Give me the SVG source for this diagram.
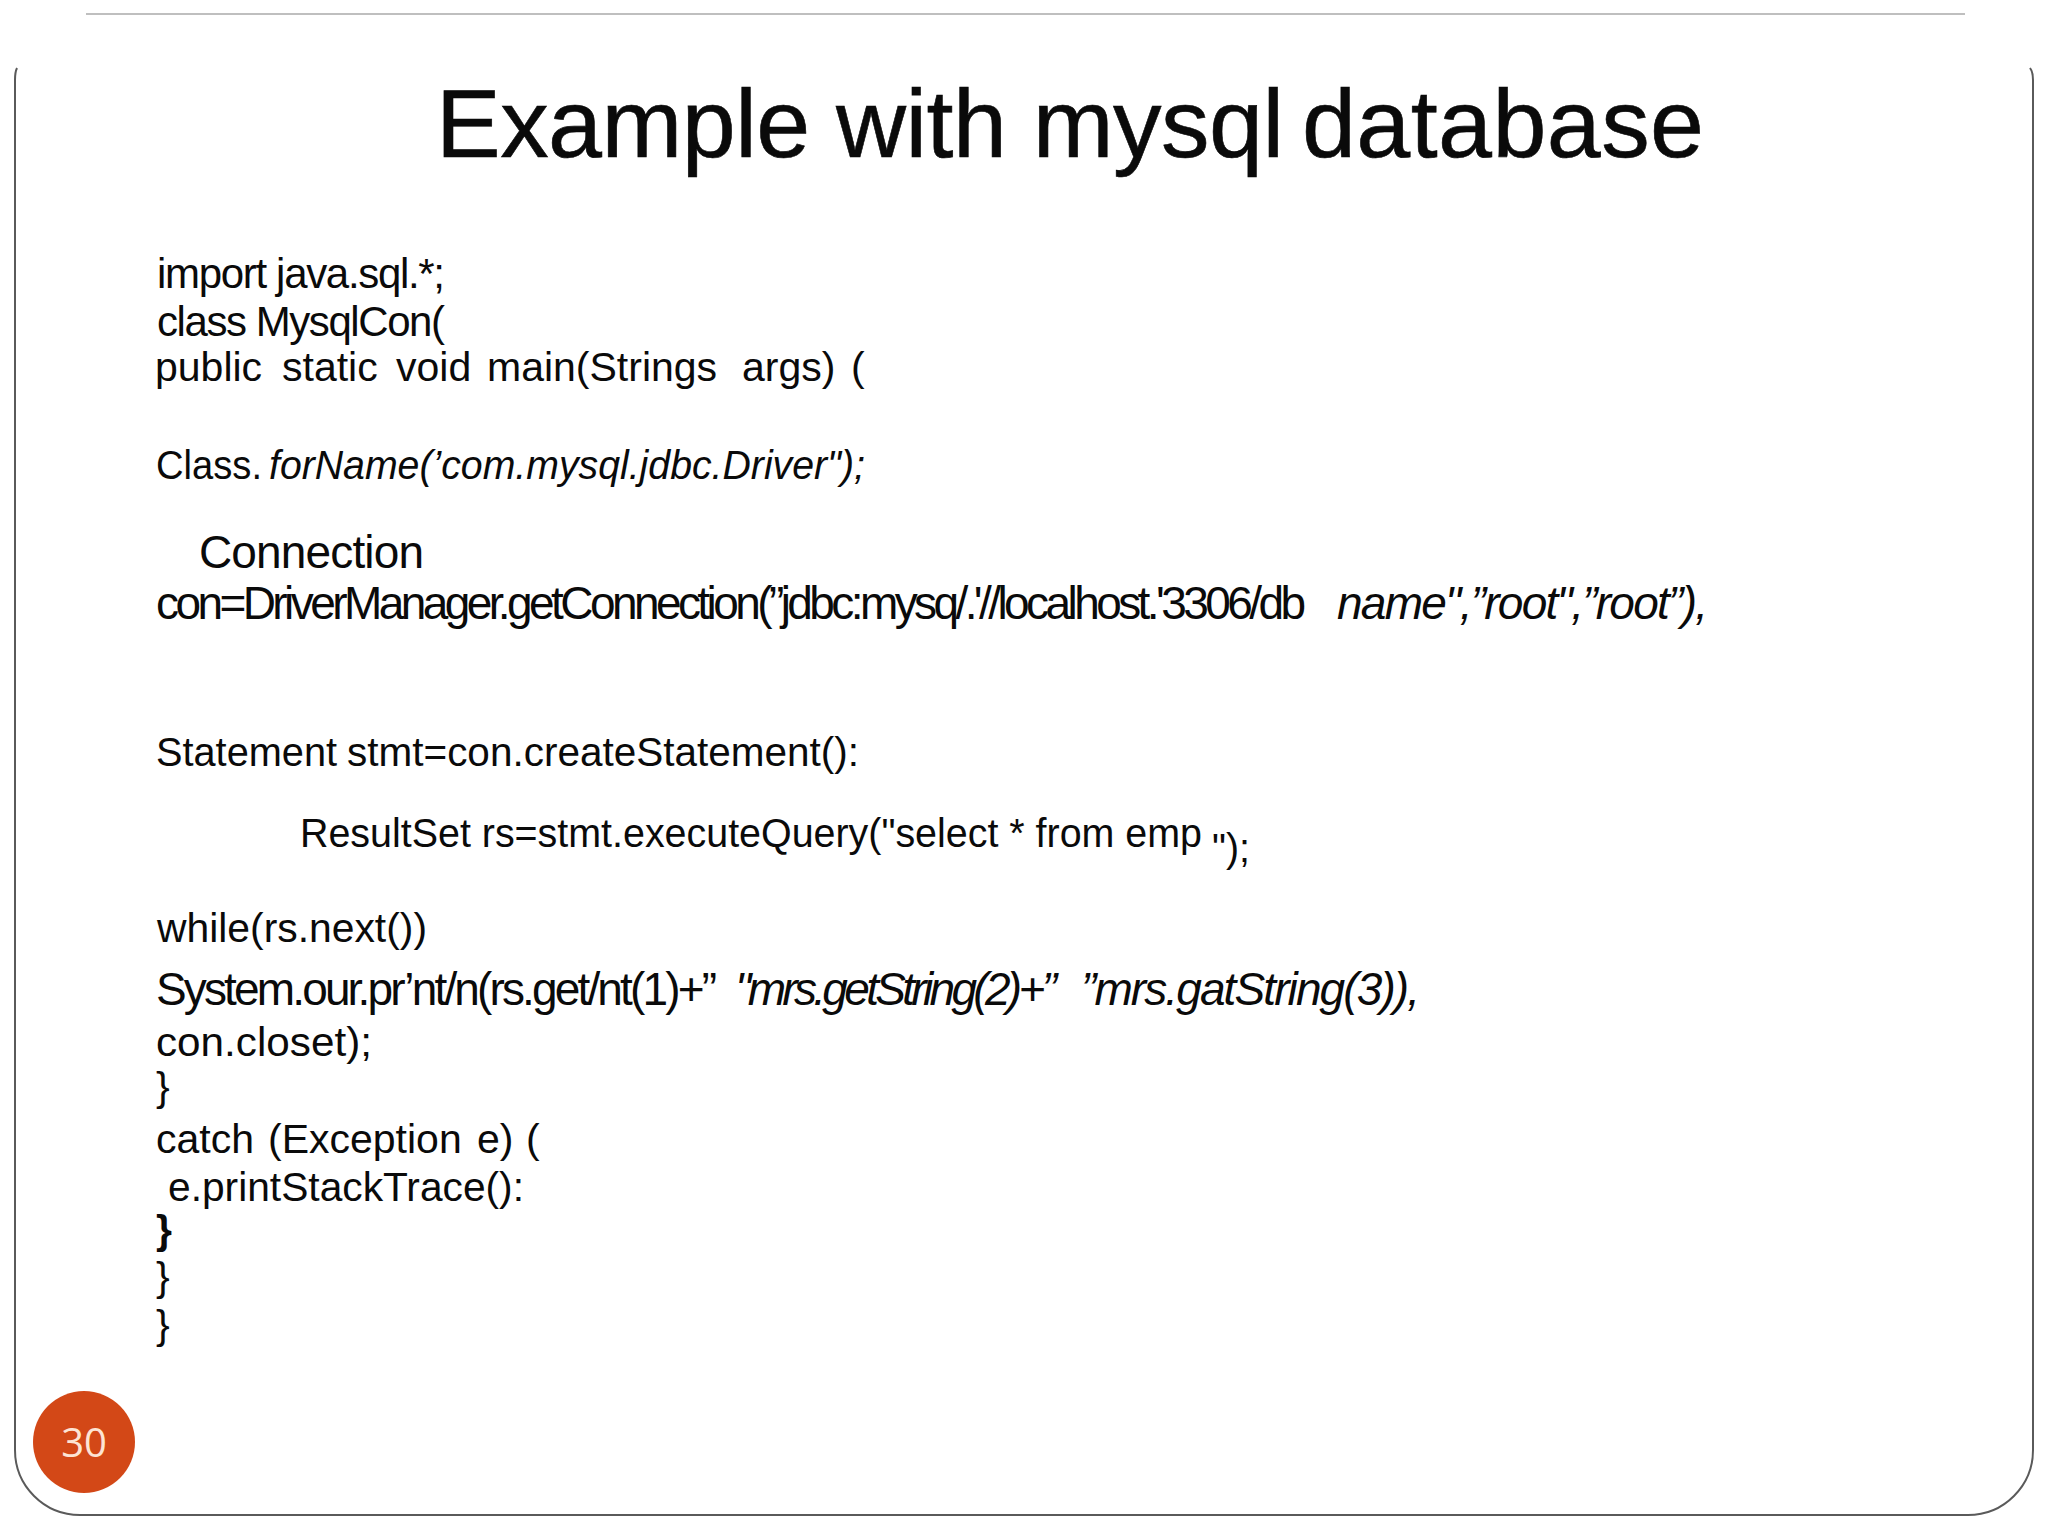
<svg xmlns="http://www.w3.org/2000/svg" width="2048" height="1536" viewBox="0 0 2048 1536">
<style>
text{font-family:"Liberation Sans",Arial,sans-serif;fill:#0a0a0a;font-size:41px;white-space:pre}
.i{font-style:italic}
.b{font-weight:bold}
.s{font-size:46px}
.m{font-size:42px}
.t{font-size:97px;stroke:#0a0a0a;stroke-width:.6px}
</style>
<rect width="2048" height="1536" fill="#fff"/>
<line x1="86" y1="14" x2="1965" y2="14" stroke="#aaa" stroke-width="1.5"/>
<path d="M17 68Q15 72 15 80V1450A65 65 0 0 0 80 1515H1968A65 65 0 0 0 2033 1450V80Q2033 72 2030 68" fill="none" stroke="#5a5a5a" stroke-width="2"/>
<text class="t" x="436" y="157" textLength="848" lengthAdjust="spacing">Example with mysql</text>
<text class="t" x="1302" y="157" textLength="402" lengthAdjust="spacing">database</text>
<text class="m" x="157" y="288" textLength="288" lengthAdjust="spacing">import java.sql.*;</text>
<text class="m" x="157" y="336" textLength="288" lengthAdjust="spacing">class MysqlCon(</text>
<text x="155" y="381"><tspan x="155">public</tspan><tspan x="282">static</tspan><tspan x="396">void</tspan><tspan x="487">main(Strings</tspan><tspan x="742">args)</tspan><tspan x="851">(</tspan></text>
<text x="156" y="479" textLength="106" lengthAdjust="spacingAndGlyphs">Class.</text>
<text class="i" x="269" y="479" textLength="596" lengthAdjust="spacingAndGlyphs">forName(’com.mysql.jdbc.Driver");</text>
<text class="s" x="199" y="568" textLength="225" lengthAdjust="spacing">Connection</text>
<text class="s" x="156" y="619" textLength="1150" lengthAdjust="spacing">con=DriverManager.getConnection(”jdbc:mysq/.'//localhost.'3306/db</text>
<text class="s i" x="1337" y="619" textLength="371" lengthAdjust="spacing">name",”root",”root”),</text>
<text x="156" y="766" textLength="181" lengthAdjust="spacingAndGlyphs">Statement</text>
<text x="347" y="766" textLength="512" lengthAdjust="spacingAndGlyphs">stmt=con.createStatement():</text>
<text x="300" y="847" style="font-size:40px" textLength="902" lengthAdjust="spacingAndGlyphs">ResultSet rs=stmt.executeQuery("select * from emp</text>
<text x="1212" y="862" textLength="38" lengthAdjust="spacingAndGlyphs">");</text>
<text x="157" y="942" textLength="270" lengthAdjust="spacingAndGlyphs">while(rs.next())</text>
<text class="s" x="156" y="1005" textLength="561" lengthAdjust="spacing">System.our.pr’nt/n(rs.get/nt(1)+”</text>
<text class="s i" x="735" y="1005" textLength="322" lengthAdjust="spacing">"mrs.getString(2)+”</text>
<text class="s i" x="1081" y="1005" textLength="339" lengthAdjust="spacing">”mrs.gatString(3)),</text>
<text x="156" y="1056" textLength="216" lengthAdjust="spacingAndGlyphs">con.closet);</text>
<text x="156" y="1101">}</text>
<text y="1153"><tspan x="156">catch</tspan><tspan x="268">(Exception</tspan><tspan x="477">e)</tspan><tspan x="526">(</tspan></text>
<text x="168" y="1201" textLength="356" lengthAdjust="spacingAndGlyphs">e.printStackTrace():</text>
<text class="b" x="156" y="1244">}</text>
<text x="156" y="1291">}</text>
<text x="156" y="1339">}</text>
<g id="page-number">
<circle cx="84" cy="1442" r="51" fill="#d34817"/>
<text x="84" y="1457" text-anchor="middle" style="font-family:'Open Sans',sans-serif;font-size:40px;fill:#fde4d4">30</text>
</g>
</svg>
